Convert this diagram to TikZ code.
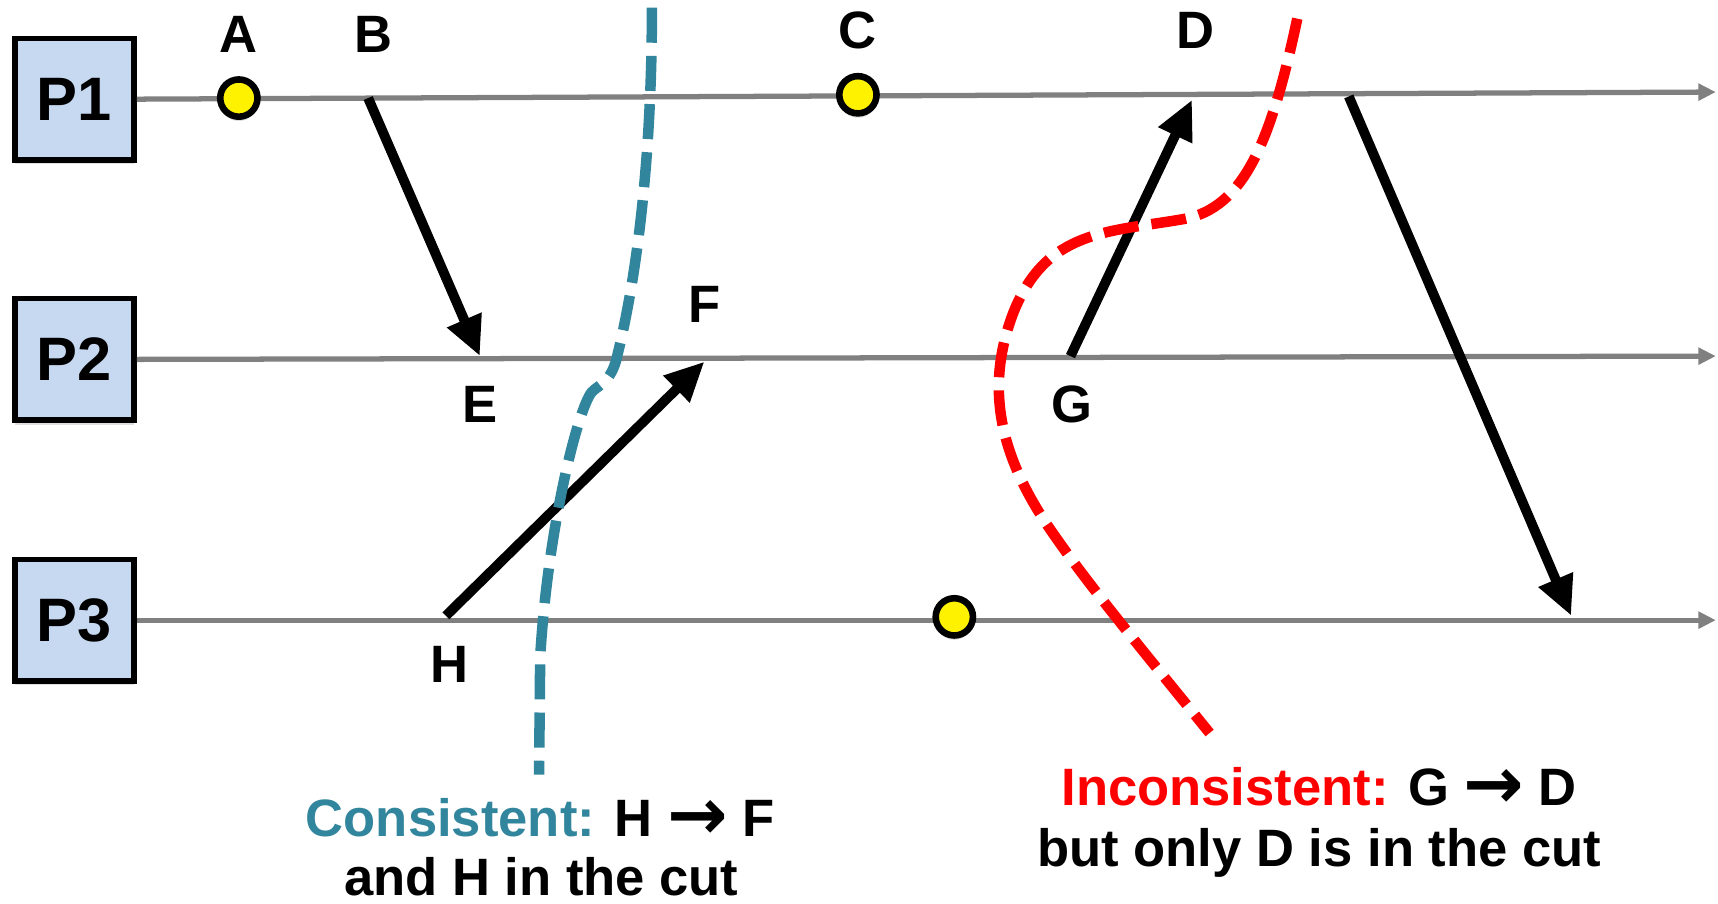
\documentclass[tikz,border=0pt]{standalone}
\usepackage{fontspec}
\setmainfont{Liberation Sans}
\newfontfamily\arrowfont{DejaVu Sans}
\usetikzlibrary{arrows.meta,shadows,shapes.geometric}
\definecolor{boxblue}{HTML}{C6D9F1}
\definecolor{cutblue}{HTML}{31859C}
\definecolor{timegray}{HTML}{808080}
\newcommand{\rarr}{\raisebox{-1.5pt}{\arrowfont\bfseries\fontsize{33}{33}\selectfont →}}
\begin{document}
\begin{tikzpicture}[x=0.5pt,y=-0.5pt,
  proc/.style={draw=black, line width=2.5pt, fill=boxblue, minimum width=54.5pt, minimum height=55.5pt, inner sep=0pt,
    font=\fontsize{28}{30}\selectfont\bfseries,
    drop shadow={opacity=0.25, shadow xshift=0pt, shadow yshift=-2pt}},
  event/.style={circle, draw=black, line width=3pt, fill=yellow, minimum size=17pt, inner sep=0pt,
    drop shadow={opacity=0.25, shadow xshift=0pt, shadow yshift=-2pt}},
  lbl/.style={font=\fontsize{24}{26}\selectfont\bfseries, anchor=base, inner sep=0pt},
  note/.style={font=\fontsize{24}{29}\selectfont\bfseries, align=center, anchor=base, inner sep=0pt},
  timeline/.style={draw=timegray, line width=2.4pt, -{Triangle[length=8pt,width=7.5pt]}},
  msg/.style={draw=black, line width=4.5pt, -{Triangle[length=18pt,width=16pt]}},
  cut/.style={line width=4.8pt, dash pattern=on 16pt off 6pt},
]
\useasboundingbox (0,0) rectangle (1568,825);

% processes
\node[proc] (P1) at (68,90.5) {P1};
\node[proc] (P2) at (68,328) {P2};
\node[proc] (P3) at (68,566) {P3};

% time line ends
\coordinate (t1) at (1566,84);
\coordinate (t2) at (1566,325);
\coordinate (t3) at (1566,566);
\draw[timeline] (P1.east) -- (t1);
\draw[timeline] (P2.east) -- (t2);
\draw[timeline] (P3.east) -- (t3);

% events (dots)
\node[event] (dA) at (218,89.5) {};
\node[event] (dC) at (783,86.5) {};
\node[event] (dP3) at (871,563) {};

% message end points
\coordinate (b) at (336,89.5);
\coordinate (e) at (438,325);
\coordinate (h) at (407,562);
\coordinate (f) at (643,330);
\coordinate (g) at (977,325);
\coordinate (d) at (1088,91);
\coordinate (s) at (1231,88);
\coordinate (r) at (1434,562);

\draw[msg] (b) -- (e);
\draw[msg] (h) -- (f);
\draw[msg] (g) -- (d);
\draw[msg] (s) -- (r);

% labels
\node[lbl] (A) at (218,48) {A};
\node[lbl] (B) at (341,48) {B};
\node[lbl] (C) at (783,44) {C};
\node[lbl] (D) at (1091,44) {D};
\node[lbl] (E) at (438,386) {E};
\node[lbl] (F) at (643,294) {F};
\node[lbl] (G) at (978,386) {G};
\node[lbl] (H) at (410,623) {H};

% consistent cut
\draw[cut, draw=cutblue] (595,7) .. controls (595,150) and (580,260) .. (562,330)
  .. controls (556,350) and (545,352) .. (540,358)
  .. controls (528,372) and (500,480) .. (493,600) -- (492,707);

% inconsistent cut
\draw[cut, draw=red] (1184,17) .. controls (1160,130) and (1135,190) .. (1080,200)
  .. controls (1010,212) and (955,210) .. (925,285)
  .. controls (900,350) and (910,410) .. (955,478)
  .. controls (990,530) and (1040,590) .. (1104,669);

% notes
\node[note] (n1) at (493,763) {\textcolor{cutblue}{Consistent:} H \rarr{} F};
\node[note] (n2) at (494,817) {and H in the cut};
\node[note] (n3) at (1204,735) {\textcolor{red}{Inconsistent:} G \rarr{} D};
\node[note] (n4) at (1204,791) {but only D is in the cut};
\end{tikzpicture}
\end{document}
